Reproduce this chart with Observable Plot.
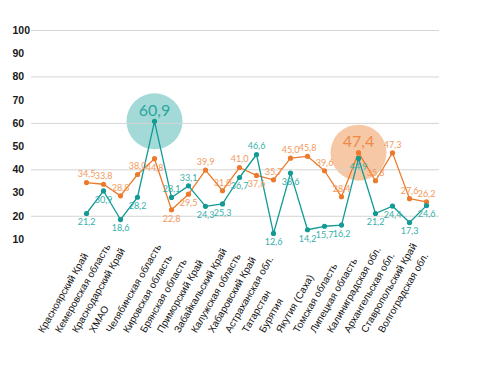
<!DOCTYPE html>
<html>
<head>
<meta charset="utf-8">
<script src="https://cdn.jsdelivr.net/npm/d3@7"></script>
<script src="https://cdn.jsdelivr.net/npm/@observablehq/plot@0.6"></script>
<style>
  html, body { margin: 0; padding: 0; background: #fff; }
  #chart svg { display: block; }
</style>
</head>
<body>
<div id="chart"></div>
<script>
const regions = [
  "Красноярский Край", "Кемеровская область", "Краснодарский Край", "ХМАО",
  "Челябинская область", "Кировская область", "Брянская область", "Приморский Край",
  "Забайкальский Край", "Калужская область", "Хабаровский Край", "Астраханская обл.",
  "Татарстан", "Бурятия", "Якутия (Саха)", "Томская область", "Липецкая область",
  "Калиниградская обл.", "Архангельская обл.", "Ставропольский Край", "Волгоградская обл."
];
const orangeValues = [34.5, 33.8, 28.8, 38.0, 44.8, 22.8, 29.5, 39.9, 31.0, 41.0, 37.6,
  35.7, 45.0, 45.8, 39.6, 28.4, 47.4, 35.3, 47.3, 27.6, 26.2];
const tealValues = [21.2, 30.9, 18.6, 28.2, 60.9, 28.1, 33.1, 24.3, 25.3, 36.7, 46.6,
  12.6, 38.6, 14.2, 15.7, 16.2, 44.9, 21.2, 24.4, 17.3, 24.6];
const yTicks = [10, 20, 30, 40, 50, 60, 70, 80, 90, 100];
const gridValues = [20, 40, 60, 80, 100];

const ORANGE = "#ec7a2c", ORANGE_LABEL = "#f29a5c", ORANGE_BUBBLE = "#f7c8a6";
const TEAL = "#139a94", TEAL_LABEL = "#36b0aa", TEAL_BUBBLE = "#a3dad8";

const fmt = v => v.toFixed(1).replace(".", ",");
const orange = regions.map((r, i) => ({region: r, value: orangeValues[i], other: tealValues[i]}));
const teal = regions.map((r, i) => ({region: r, value: tealValues[i], other: orangeValues[i]}));
const oMax = d3.max(orangeValues), tMax = d3.max(tealValues);
const orangeTop = orange.filter(d => d.value === oMax);
const tealTop = teal.filter(d => d.value === tMax);
// plain labels: above the point when this series is the upper one, below otherwise
const oAbove = orange.filter(d => d.value !== oMax && d.value >= d.other);
const oBelow = orange.filter(d => d.value !== oMax && d.value < d.other);
const tAbove = teal.filter(d => d.value !== tMax && d.value > d.other);
const tBelow = teal.filter(d => d.value !== tMax && d.value <= d.other);

const labelFont = "Lato, 'Open Sans', sans-serif";
const lab = (data, dy, fill) => Plot.text(data, {x: "region", y: "value", text: d => fmt(d.value),
  dy, textAnchor: "middle", fill, fontSize: 9, fontFamily: labelFont});

const chart = Plot.plot({
  width: 496,
  height: 367,
  marginLeft: 77,
  marginRight: 61,
  marginTop: 30,
  marginBottom: 128,
  x: {type: "point", domain: regions, padding: 0, axis: null},
  y: {domain: [10, 100], axis: null},
  style: {fontFamily: "'Liberation Sans', Arial, sans-serif", background: "#fff"},
  marks: [
    // highlight bubbles
    Plot.dot(tealTop, {x: "region", y: "value", r: 28, fill: TEAL_BUBBLE, stroke: "none"}),
    Plot.dot(orangeTop, {x: "region", y: "value", r: 28, fill: ORANGE_BUBBLE, stroke: "none"}),
    // grid
    Plot.ruleY(gridValues, {stroke: "#d4d4d4", strokeWidth: 1, insetLeft: -46, insetRight: -4}),
    // y tick labels
    Plot.text(yTicks, {y: d => d, frameAnchor: "left", dx: -65, textAnchor: "start",
      text: d => String(d), fontWeight: "bold", fontSize: 10.5, fill: "#1a1a1a"}),
    // lines
    Plot.line(orange, {x: "region", y: "value", stroke: ORANGE, strokeWidth: 1.3}),
    Plot.line(teal, {x: "region", y: "value", stroke: TEAL, strokeWidth: 1.3}),
    Plot.dot(orange, {x: "region", y: "value", r: 2.6, fill: ORANGE, stroke: "none"}),
    Plot.dot(teal, {x: "region", y: "value", r: 2.6, fill: TEAL, stroke: "none"}),
    // data labels
    lab(oAbove, -8, ORANGE_LABEL),
    lab(oBelow, 9, ORANGE_LABEL),
    lab(tAbove, -8, TEAL_LABEL),
    lab(tBelow, 9, TEAL_LABEL),
    // bubble labels
    Plot.text(tealTop, {x: "region", y: "value", text: d => fmt(d.value), dy: -10,
      fill: "#2aa6a1", fontSize: 16, fontFamily: labelFont}),
    Plot.text(orangeTop, {x: "region", y: "value", text: d => fmt(d.value), dy: -11,
      fill: "#ee8a46", fontSize: 16, fontFamily: labelFont}),
    // x labels (rotated, start-anchored at the bottom)
    Plot.text(regions, {x: d => d, frameAnchor: "bottom", dy: 94, dx: -43, rotate: -60,
      textAnchor: "start", text: d => d, fontSize: 10, fill: "#111"})
  ]
});
document.getElementById("chart").appendChild(chart);
</script>
</body>
</html>
